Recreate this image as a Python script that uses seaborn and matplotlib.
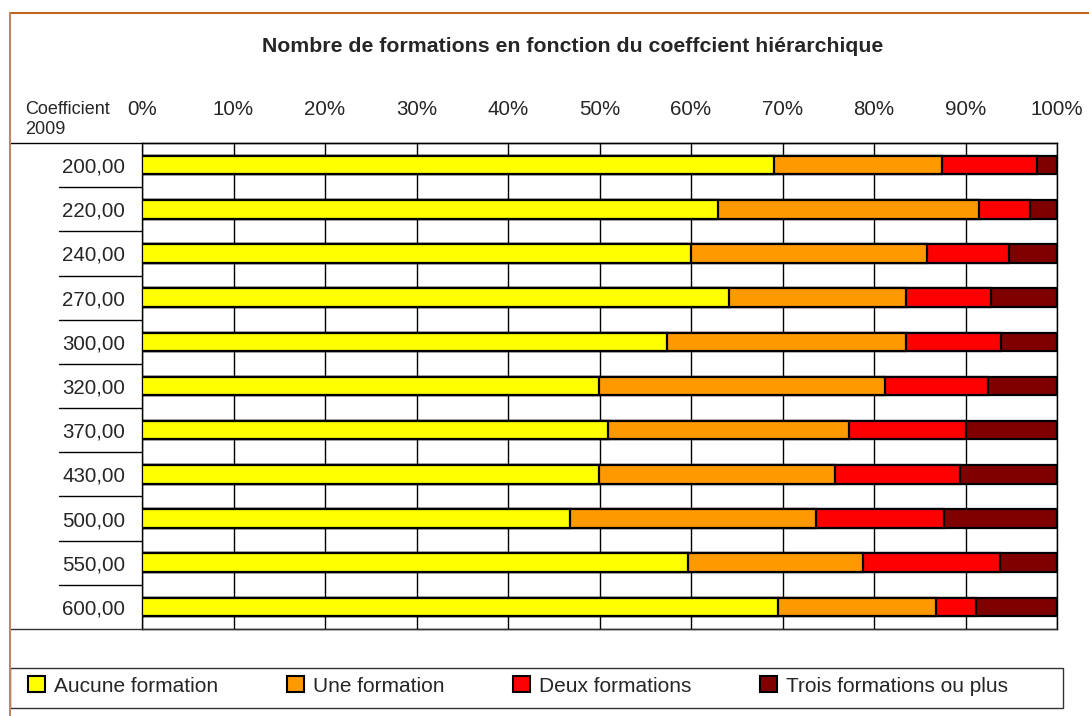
import numpy as np
import pandas as pd
import matplotlib
matplotlib.use("Agg")
import matplotlib.pyplot as plt
from matplotlib.patches import Patch, Rectangle
from matplotlib.lines import Line2D
import seaborn as sns

# coefficient hierarchique 2009 (row labels)
coef = ["200,00", "220,00", "240,00", "270,00", "300,00", "320,00",
        "370,00", "430,00", "500,00", "550,00", "600,00"]

# shares (%) of each group
aucune = [69.1, 62.9, 60.0, 64.2, 57.4, 49.9, 50.9, 49.9, 46.8, 59.7, 69.5]
une = [18.3, 28.6, 25.8, 19.3, 26.1, 31.3, 26.4, 25.8, 26.9, 19.1, 17.3]
deux = [10.4, 5.5, 8.9, 9.3, 10.4, 11.3, 12.8, 13.7, 13.9, 15.0, 4.4]
trois = [2.2, 3.0, 5.3, 7.2, 6.1, 7.5, 9.9, 10.6, 12.4, 6.2, 8.8]

series = ["Aucune formation", "Une formation", "Deux formations", "Trois formations ou plus"]
colors = ["#FFFF00", "#FF9900", "#FF0000", "#800000"]
pct_ticks = [0, 10, 20, 30, 40, 50, 60, 70, 80, 90, 100]

df = pd.DataFrame({"coef": coef, series[0]: aucune, series[1]: une,
                   series[2]: deux, series[3]: trois})
cum = df[series].cumsum(axis=1)

sns.set_style("white")
plt.rcParams["font.family"] = ["Liberation Sans", "DejaVu Sans"]

W, H = 1089, 716
fig = plt.figure(figsize=(W / 100, H / 100), dpi=100)
ax = fig.add_axes([142 / W, 1 - 629 / H, (1057 - 142) / W, (629 - 143) / H])

# stacked bars: draw cumulative totals from the longest to the shortest
for name, col in zip(series[::-1], colors[::-1]):
    sns.barplot(x=cum[name], y=df["coef"], color=col, saturation=1, width=0.42,
                edgecolor="black", linewidth=1.6, orient="h", ax=ax, zorder=3)

ax.set_xlim(0, 100)
ax.set_ylim(len(coef) - 0.5, -0.5)
ax.set_xticks(pct_ticks)
ax.set_xticklabels([f"{t}%" for t in pct_ticks])
ax.xaxis.tick_top()
ax.set_xlabel("")
ax.set_ylabel("")
ax.tick_params(axis="x", length=0, pad=17, labelsize=14.8)
ax.tick_params(axis="y", length=0, pad=12, labelsize=14.8)
for t in pct_ticks:
    ax.axvline(t, color="black", lw=1.0, zorder=1)
for s in ax.spines.values():
    s.set_color("black")
    s.set_linewidth(1.0)

# row separators in the label column
x0 = -(142 - 59) / (1057 - 142)
for i in range(len(coef) - 1):
    ax.plot([x0, 0], [i + 0.5, i + 0.5], color="black", lw=1.0,
            transform=ax.get_yaxis_transform(), clip_on=False)

# table lines and outer frame
fig.add_artist(Line2D([10 / W, 1057 / W], [1 - 143 / H] * 2, color="black", lw=1.0))
fig.add_artist(Line2D([10 / W, 1057 / W], [1 - 629 / H] * 2, color="#333333", lw=1.0))
fig.add_artist(Line2D([10 / W, 1], [1 - 13 / H] * 2, color="#c0661f", lw=1.5))
fig.add_artist(Line2D([10 / W, 10 / W], [0, 1 - 13 / H], color="#b98a5c", lw=1.5))
fig.add_artist(Rectangle((10 / W, 1 - 708 / H), (1063 - 10) / W, 40 / H,
                         fill=False, edgecolor="#333333", lw=1.0,
                         transform=fig.transFigure))

fig.text(573 / W, 1 - 46 / H, "Nombre de formations en fonction du coeffcient hiérarchique",
         ha="center", va="center", fontsize=15.3, fontweight="bold")
fig.text(25 / W, 1 - 110 / H, "Coefficient", ha="left", va="center", fontsize=13)
fig.text(25 / W, 1 - 129 / H, "2009", ha="left", va="center", fontsize=13)

handles = [Patch(facecolor=c, edgecolor="black", lw=1.5) for c in colors]
fig.legend(handles, series, loc="center left", bbox_to_anchor=(28 / W, 1 - 686 / H),
           ncol=4, frameon=False, fontsize=15, borderpad=0, borderaxespad=0,
           handlelength=0.8, handleheight=0.8, handletextpad=0.45,
           columnspacing=3.3)

fig.savefig("out.png", dpi=100)
